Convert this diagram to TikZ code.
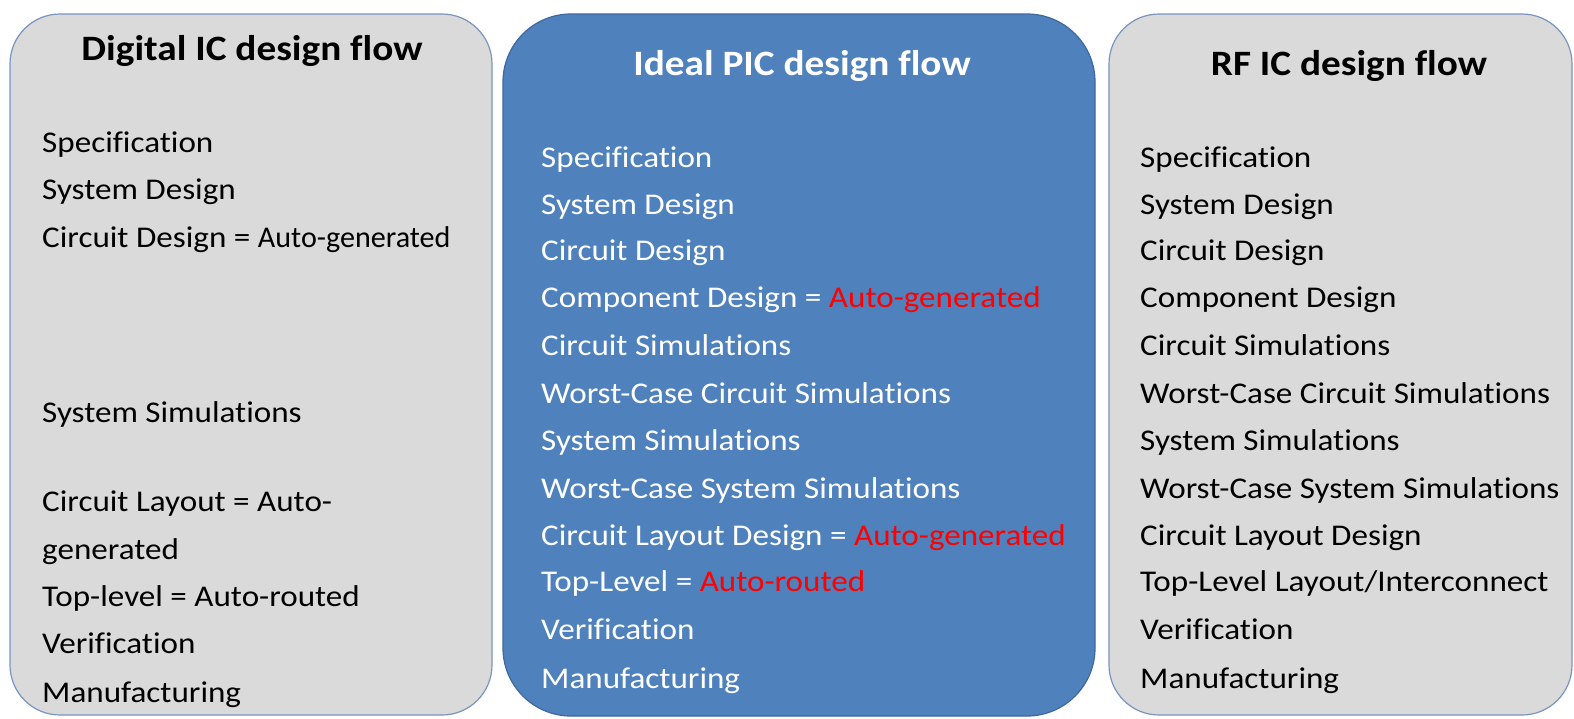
\documentclass[tikz,border=0pt]{standalone}
\usepackage{graphicx}
\usepackage{fontspec}
\setmainfont{Carlito}[FakeStretch=1.1, Ligatures=CommonOff]
\definecolor{panelgray}{RGB}{218,218,218}
\definecolor{panelline}{RGB}{120,148,192}
\definecolor{picblue}{RGB}{79,129,189}
\definecolor{picline}{RGB}{62,104,160}
\definecolor{autored}{RGB}{255,0,0}
\begin{document}
\begin{tikzpicture}[x=1pt,y=-1pt,
  panel/.style={draw=panelline, line width=1.2pt, fill=panelgray, inner sep=0pt},
  picpanel/.style={draw=picline, line width=1.2pt, fill=picblue, inner sep=0pt},
  title/.style={anchor=base, inner sep=0pt, font=\fontsize{35.7}{42}\selectfont\bfseries},
  item/.style={anchor=base west, inner sep=0pt, font=\fontsize{30.1}{36}\selectfont}
]
% canvas
\useasboundingbox[fill=white] (0,0) rectangle (1574,718);

% the three panels
\node[panel, rounded corners=50pt, minimum width=482pt, minimum height=701pt] (digital) at (251,364.5) {};
\node[picpanel, rounded corners=68pt, minimum width=592pt, minimum height=702pt] (pic) at (799,365) {};
\node[panel, rounded corners=50pt, minimum width=463pt, minimum height=701pt] (rf) at (1340.5,364.5) {};

% digital IC flow
\node[title] (dtitle) at (252,60) {Digital IC design flow};
\begin{scope}[every node/.style={item}]
\node (d1) at (42,152) {Specification};
\node (d2) at (42,199) {System Design};
\node (d3) at (42,247) {Circuit Design = \scalebox{0.91}[1]{Auto-generated}};
\node (d4) at (42,422) {System Simulations};
\node (d5) at (42,511) {Circuit Layout = Auto-};
\node (d6) at (42,559) {generated};
\node (d7) at (42,606) {Top-level = Auto-routed};
\node (d8) at (42,653) {Verification};
\node (d9) at (42,702) {Manufacturing};
\end{scope}

% ideal PIC flow
\node[title, text=white] (ptitle) at (802,75) {Ideal PIC design flow};
\begin{scope}[every node/.style={item, text=white}]
\node (p1)  at (541,167) {Specification};
\node (p2)  at (541,214) {System Design};
\node (p3)  at (541,260) {Circuit Design};
\node (p4)  at (541,307) {Component Design = \textcolor{autored}{Auto-generated}};
\node (p5)  at (541,355) {Circuit Simulations};
\node (p6)  at (541,403) {Worst-Case Circuit Simulations};
\node (p7)  at (541,450) {System Simulations};
\node (p8)  at (541,498) {Worst-Case System Simulations};
\node (p9)  at (541,545) {Circuit Layout Design = \textcolor{autored}{Auto-generated}};
\node (p10) at (541,591) {Top-Level = \textcolor{autored}{Auto-routed}};
\node (p11) at (541,639) {Verification};
\node (p12) at (541,688) {Manufacturing};
\end{scope}

% RF IC flow
\node[title] (rtitle) at (1349,75) {RF IC design flow};
\begin{scope}[every node/.style={item}]
\node (r1)  at (1140,167) {Specification};
\node (r2)  at (1140,214) {System Design};
\node (r3)  at (1140,260) {Circuit Design};
\node (r4)  at (1140,307) {Component Design};
\node (r5)  at (1140,355) {Circuit Simulations};
\node (r6)  at (1140,403) {Worst-Case Circuit Simulations};
\node (r7)  at (1140,450) {System Simulations};
\node (r8)  at (1140,498) {Worst-Case System Simulations};
\node (r9)  at (1140,545) {Circuit Layout Design};
\node (r10) at (1140,591) {Top-Level Layout/Interconnect};
\node (r11) at (1140,639) {Verification};
\node (r12) at (1140,688) {Manufacturing};
\end{scope}
\end{tikzpicture}
\end{document}
